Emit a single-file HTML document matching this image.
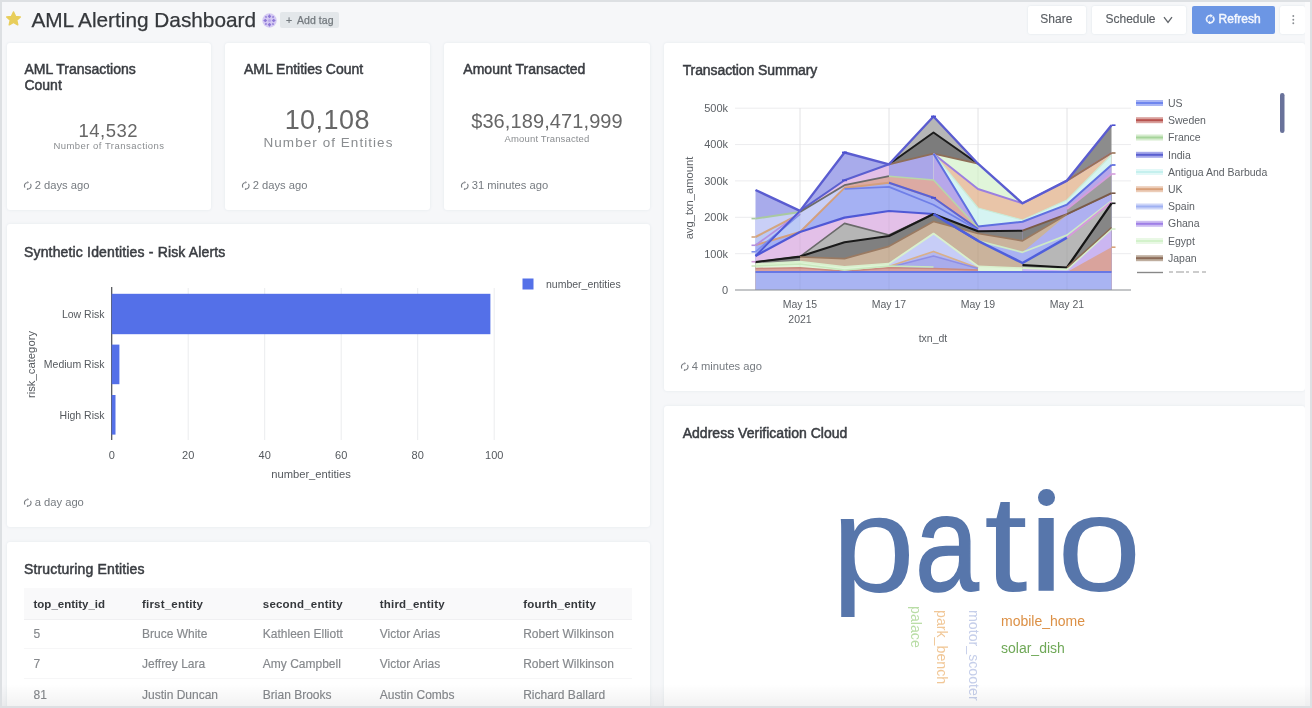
<!DOCTYPE html>
<html><head><meta charset="utf-8">
<style>
*{box-sizing:border-box;margin:0;padding:0}
html,body{width:1312px;height:708px;overflow:hidden;background:#f6f7f9;font-family:"Liberation Sans",sans-serif;color:#333}
#frame{position:absolute;left:0;top:0;width:1312px;height:708px;border:2px solid #dde0e3;z-index:50;pointer-events:none}
.card{position:absolute;background:#fff;border-radius:3px;box-shadow:0 0 3px rgba(102,136,153,.12)}
.t{position:absolute;white-space:nowrap}
.ct{font-size:14px;color:#3a3d42;font-weight:400;-webkit-text-stroke:.5px #3a3d42;line-height:16px}
.ago{font-size:11.2px;color:#767b80}
.btn{top:5.5px;height:28px;background:#fff;border-radius:2px;box-shadow:0 0 2px rgba(102,136,153,.18)}
.bt{top:12px;font-size:12px;line-height:14px;color:#5b5f64;-webkit-text-stroke:.15px #5b5f64}
.cv{text-align:center;color:#666}
.cl{text-align:center;color:#8a8d90}
.ago{line-height:14px}
.ago svg{vertical-align:-1.2px;margin-right:2px;margin-left:-.8px;color:#777b80}
.th{letter-spacing:.2px;font-size:11.5px;font-weight:700;color:#35383c;line-height:16px}
.td{font-size:12px;color:#85888c;line-height:16px;margin-top:.5px;-webkit-text-stroke:.15px #85888c}
.wh{font-size:14px;line-height:16px}
.wv{font-size:14.2px;line-height:16px;transform-origin:0 0;transform:rotate(90deg) translate(0,-50%)}
#fade{position:absolute;left:0;top:684px;width:1312px;height:24px;background:linear-gradient(to bottom,rgba(0,0,0,0),rgba(0,0,0,.055));z-index:40}
.pl{font-size:137px;line-height:154px;color:#5776ab;transform-origin:0 0}
#wrap{position:absolute;left:0;top:0;width:1312px;height:708px;overflow:hidden;filter:blur(.6px);background:#f6f7f9}
</style></head><body><div id="wrap">
<!-- HEADER -->
<div id="hdr">
<svg class="t" style="left:4.7px;top:9.6px" width="17" height="17" viewBox="0 0 18 17"><path d="M9 1.6 L11.1 6.3 L16.2 6.8 L12.4 10.2 L13.5 15.2 L9 12.6 L4.5 15.2 L5.6 10.2 L1.8 6.8 L6.9 6.3 Z" fill="#e8ce5b" stroke="#e8ce5b" stroke-width="1.6" stroke-linejoin="round"/></svg>
<div class="t" id="title" style="left:31.4px;top:7.8px;font-size:20.8px;line-height:24px;color:#35383c;-webkit-text-stroke:.25px #35383c">AML Alerting Dashboard</div>
<svg class="t" id="avatar" style="left:261.5px;top:12.5px" width="15" height="15" viewBox="0 0 15 15"><circle cx="7.5" cy="7.5" r="7.2" fill="#d4c9f3"/><g fill="#8d78d6"><path d="M7.5 1.2 L9.3 3.4 L7.5 5.2 L5.7 3.4Z M7.5 9.8 L9.3 11.6 L7.5 13.8 L5.7 11.6Z M1.2 7.5 L3.4 5.7 L5.2 7.5 L3.4 9.3Z M9.8 7.5 L11.6 5.7 L13.8 7.5 L11.6 9.3Z"/><path d="M3 3 L5 3.2 L4.8 5 L3.2 4.8Z M12 3 L11.8 5 L10 4.8 L10.2 3.2Z M3 12 L3.2 10 L5 10.2 L4.8 11.8Z M12 12 L10 11.8 L10.2 10 L11.8 10.2Z" opacity=".8"/></g><circle cx="7.5" cy="7.5" r="1.6" fill="#b9a9ea"/></svg>
<div class="t" id="addtag" style="left:280px;top:12px;width:59px;height:15.5px;border-radius:2px;background:#e3e7ea"></div>
<div class="t" style="left:286px;top:12.5px;font-size:10.5px;line-height:14px;color:#73797e;-webkit-text-stroke:.2px #73797e">+</div>
<div class="t" style="left:297px;top:12.5px;font-size:10.5px;line-height:14px;color:#73797e;letter-spacing:.05px;-webkit-text-stroke:.25px #73797e">Add tag</div>
<div class="t btn" id="share" style="left:1027.5px;width:58px"></div><div class="t bt" style="left:1040.3px">Share</div>
<div class="t btn" id="sched" style="left:1092px;width:93.5px"></div><div class="t bt" style="left:1105.5px">Schedule</div>
<svg class="t" style="left:1163px;top:15.5px" width="10" height="8" viewBox="0 0 10 8"><path d="M1 1.2 L5 6.4 L9 1.2" fill="none" stroke="#63676c" stroke-width="1.35"/></svg>
<div class="t btn" id="refresh" style="left:1192px;width:83px;background:#6c96e4;box-shadow:none"></div>
<svg class="t" style="left:1204.8px;top:13.8px" width="10.4" height="10.4" viewBox="0 0 10 10"><path d="M7.45 2.5 A3.5 3.5 0 0 1 4.2 8.4 M2.55 7.5 A3.5 3.5 0 0 1 5.8 1.6" fill="none" stroke="#eef3fd" stroke-width="1.6"/><path d="M5.2 0 L7.6 1.7 L5.2 3.6Z M4.8 10 L2.4 8.3 L4.8 6.4Z" fill="#eef3fd"/></svg>
<div class="t bt" style="left:1218.6px;color:#f4f7fe;-webkit-text-stroke:.45px #f4f7fe">Refresh</div>
<div class="t btn" id="more" style="left:1279.5px;width:25.5px"></div>
<svg class="t" style="left:1291px;top:13.5px" width="5" height="12" viewBox="0 0 5 12"><circle cx="2.3" cy="2" r=".95" fill="#8a8e93"/><circle cx="2.3" cy="5.7" r=".95" fill="#8a8e93"/><circle cx="2.3" cy="9.3" r=".95" fill="#8a8e93"/></svg>
</div>
<!-- CARDS -->
<div class="card" id="c1" style="left:7px;top:43px;width:204px;height:167px">
<div class="t ct" style="left:17.5px;top:18.3px;white-space:normal;width:130px;letter-spacing:-0.02px">AML Transactions Count</div>
<div class="t cv" style="left:0;width:100%;top:79px;font-size:18.5px;line-height:18.5px;letter-spacing:.5px;margin-left:-.7px">14,532</div>
<div class="t cl" style="left:0;width:100%;top:96.5px;font-size:9.5px;line-height:11.5px;letter-spacing:0.47px">Number of Transactions</div>
<div class="t ago" style="left:17px;top:135px"><svg class="ri" width="9.5" height="9.5" viewBox="0 0 10 10"><path d="M7.87 2.99 A3.5 3.5 0 0 1 5.31 8.49 M2.13 7.01 A3.5 3.5 0 0 1 4.69 1.51" fill="none" stroke="currentColor" stroke-width="1.15"/><path d="M3.81 8.62 L5.43 9.88 L5.18 7.09 Z M6.19 1.38 L4.57 0.12 L4.82 2.91 Z" fill="currentColor"/></svg><span>2 days ago</span></div>
</div>
<div class="card" id="c2" style="left:225px;top:43px;width:205px;height:167px">
<div class="t ct" style="left:19px;top:18.3px;white-space:normal;width:130px;letter-spacing:-0.01px">AML Entities Count</div>
<div class="t cv" style="left:0;width:100%;top:64px;font-size:27px;line-height:27px;letter-spacing:.45px;margin-left:-.2px">10,108</div>
<div class="t cl" style="left:0;width:100%;top:92px;font-size:13.5px;line-height:15.5px;letter-spacing:1.05px;margin-left:1px">Number of Entities</div>
<div class="t ago" style="left:17px;top:135px"><svg class="ri" width="9.5" height="9.5" viewBox="0 0 10 10"><path d="M7.87 2.99 A3.5 3.5 0 0 1 5.31 8.49 M2.13 7.01 A3.5 3.5 0 0 1 4.69 1.51" fill="none" stroke="currentColor" stroke-width="1.15"/><path d="M3.81 8.62 L5.43 9.88 L5.18 7.09 Z M6.19 1.38 L4.57 0.12 L4.82 2.91 Z" fill="currentColor"/></svg><span>2 days ago</span></div>
</div>
<div class="card" id="c3" style="left:444px;top:43px;width:206px;height:167px">
<div class="t ct" style="left:19.3px;top:18.3px;white-space:normal;width:130px;letter-spacing:0.035px">Amount Transacted</div>
<div class="t cv" style="left:0;width:100%;top:68px;font-size:20px;line-height:20px;letter-spacing:.1px">$36,189,471,999</div>
<div class="t cl" style="left:0;width:100%;top:90px;font-size:9.5px;line-height:11.5px;letter-spacing:0.15px">Amount Transacted</div>
<div class="t ago" style="left:17px;top:135px"><svg class="ri" width="9.5" height="9.5" viewBox="0 0 10 10"><path d="M7.87 2.99 A3.5 3.5 0 0 1 5.31 8.49 M2.13 7.01 A3.5 3.5 0 0 1 4.69 1.51" fill="none" stroke="currentColor" stroke-width="1.15"/><path d="M3.81 8.62 L5.43 9.88 L5.18 7.09 Z M6.19 1.38 L4.57 0.12 L4.82 2.91 Z" fill="currentColor"/></svg><span>31 minutes ago</span></div>
</div>
<div class="card" id="c4" style="left:664px;top:43px;width:641px;height:348px">
<div class="t ct" style="left:18.7px;top:19px;letter-spacing:-0.1px">Transaction Summary</div>
<!--AREA-START--><svg class="t" style="left:0;top:0" width="641" height="348" font-family="Liberation Sans, sans-serif" font-size="10.5" fill="#5d6166">
<line x1="71" y1="210.7" x2="467" y2="210.7" stroke="#ececee" stroke-width="1"/>
<line x1="71" y1="174.3" x2="467" y2="174.3" stroke="#ececee" stroke-width="1"/>
<line x1="71" y1="137.9" x2="467" y2="137.9" stroke="#ececee" stroke-width="1"/>
<line x1="71" y1="101.6" x2="467" y2="101.6" stroke="#ececee" stroke-width="1"/>
<line x1="71" y1="65.2" x2="467" y2="65.2" stroke="#ececee" stroke-width="1"/>
<line x1="136.0" y1="65" x2="136.0" y2="247" stroke="#ececee" stroke-width="1"/>
<line x1="225.0" y1="65" x2="225.0" y2="247" stroke="#ececee" stroke-width="1"/>
<line x1="314.0" y1="65" x2="314.0" y2="247" stroke="#ececee" stroke-width="1"/>
<line x1="403.0" y1="65" x2="403.0" y2="247" stroke="#ececee" stroke-width="1"/>
<g><path d="M91.5 147.0 L136.0 167.9 L180.5 109.5 L225.0 121.3 L225.0 247 L91.5 247 Z" fill="#a8abeb"/>
<path d="M225.0 121.3 L269.5 73.5 L314.0 120.7 L314.0 247 L225.0 247 Z" fill="#b6b6b6"/>
<path d="M314.0 120.7 L358.5 160.3 L403.0 137.6 L403.0 247 L314.0 247 Z" fill="#e9c5a8"/>
<path d="M403.0 137.6 L447.5 82.2 L447.5 247 L403.0 247 Z" fill="#8c8c8c"/>
<path d="M225.0 121.3 L269.5 89.5 L314.0 120.7 L314.0 247 L225.0 247 Z" fill="#7c7c7c"/>
<path d="M225.0 121.3 L269.5 110.7 L269.5 247 L225.0 247 Z" fill="#aaa6e8"/>
<path d="M269.5 110.7 L314.0 120.7 L358.5 160.3 L358.5 247 L269.5 247 Z" fill="#e0f5d9"/>
<path d="M269.5 110.7 L314.0 146.0 L358.5 160.3 L403.0 137.6 L447.5 110.0 L447.5 247 L269.5 247 Z" fill="#e9c5a8"/>
<path d="M269.5 110.7 L314.0 165.0 L358.5 177.0 L403.0 157.0 L447.5 112.0 L447.5 247 L269.5 247 Z" fill="#d5f4f2"/>
<path d="M269.5 110.7 L314.0 183.5 L358.5 178.8 L403.0 161.6 L447.5 122.0 L447.5 247 L269.5 247 Z" fill="#b7a7ea"/>
<path d="M403.0 166.0 L447.5 131.0 L447.5 247 L403.0 247 Z" fill="#9c9c9c"/>
<path d="M91.5 175.6 L136.0 169.0 L136.0 247 L91.5 247 Z" fill="#c9cff7"/>
<path d="M91.5 194.0 L136.0 171.0 L136.0 247 L91.5 247 Z" fill="#bccaf6"/>
<path d="M136.0 167.9 L180.5 137.3 L225.0 121.3 L225.0 247 L136.0 247 Z" fill="#e3c0e8"/>
<path d="M136.0 169.0 L180.5 142.2 L180.5 247 L136.0 247 Z" fill="#c9cff7"/>
<path d="M180.5 142.2 L225.0 133.2 L269.5 137.0 L314.0 185.0 L314.0 247 L180.5 247 Z" fill="#dcaaa3"/>
<path d="M91.5 202.0 L136.0 189.0 L180.5 144.9 L225.0 139.8 L269.5 154.8 L314.0 186.0 L314.0 247 L91.5 247 Z" fill="#a5b1f3"/>
<path d="M91.5 213.0 L136.0 189.0 L180.5 174.6 L225.0 168.0 L269.5 171.0 L314.0 197.8 L314.0 247 L91.5 247 Z" fill="#e3c0e8"/>
<path d="M91.5 219.0 L136.0 213.6 L180.5 180.4 L225.0 192.0 L269.5 171.0 L269.5 247 L91.5 247 Z" fill="#b6b6b6"/>
<path d="M91.5 219.0 L136.0 213.6 L180.5 199.2 L225.0 193.0 L269.5 171.0 L314.0 188.3 L358.5 187.7 L358.5 247 L91.5 247 Z" fill="#808080"/>
<path d="M358.5 187.7 L403.0 171.2 L447.5 150.2 L447.5 247 L358.5 247 Z" fill="#808080"/>
<path d="M136.0 214.0 L180.5 215.6 L225.0 203.3 L269.5 178.5 L314.0 190.5 L358.5 197.8 L403.0 171.2 L403.0 247 L136.0 247 Z" fill="#cab39c"/>
<path d="M358.5 209.3 L403.0 172.0 L447.5 151.0 L447.5 247 L358.5 247 Z" fill="#aeb0f0"/>
<path d="M314.0 197.8 L358.5 209.3 L403.0 192.1 L447.5 158.0 L447.5 247 L314.0 247 Z" fill="#a9b2f2"/>
<path d="M314.0 197.8 L358.5 220.0 L358.5 247 L314.0 247 Z" fill="#cab39c"/>
<path d="M358.5 220.0 L403.0 194.7 L447.5 159.0 L447.5 247 L358.5 247 Z" fill="#b7b7b7"/>
<path d="M358.5 222.0 L403.0 224.5 L447.5 160.3 L447.5 247 L358.5 247 Z" fill="#868686"/>
<path d="M358.5 225.0 L403.0 226.5 L447.5 186.0 L447.5 247 L358.5 247 Z" fill="#cbb6f1"/>
<path d="M403.0 229.0 L447.5 204.2 L447.5 247 L403.0 247 Z" fill="#d9a39c"/>
<path d="M91.5 221.0 L136.0 218.7 L180.5 223.8 L225.0 220.7 L225.0 247 L91.5 247 Z" fill="#e0f5d9"/>
<path d="M225.0 220.7 L269.5 190.6 L314.0 223.3 L314.0 247 L225.0 247 Z" fill="#c7cdf7"/>
<path d="M314.0 223.3 L358.5 225.0 L358.5 247 L314.0 247 Z" fill="#e0f5d9"/>
<path d="M225.0 223.5 L269.5 208.5 L314.0 225.0 L314.0 247 L225.0 247 Z" fill="#b4b8f0"/>
<path d="M225.0 224.5 L269.5 213.0 L314.0 225.5 L314.0 247 L225.0 247 Z" fill="#a9acec"/>
<path d="M91.5 225.5 L136.0 224.8 L180.5 228.3 L225.0 224.8 L269.5 225.5 L314.0 227.0 L314.0 247 L91.5 247 Z" fill="#d9a39c"/>
<path d="M91.5 229.0 L447.5 229.0 L447.5 247 L91.5 247 Z" fill="#a9b4f2"/></g>
<line x1="136.0" y1="65" x2="136.0" y2="247" stroke="#000" stroke-opacity="0.04" stroke-width="1"/>
<line x1="225.0" y1="65" x2="225.0" y2="247" stroke="#000" stroke-opacity="0.04" stroke-width="1"/>
<line x1="314.0" y1="65" x2="314.0" y2="247" stroke="#000" stroke-opacity="0.04" stroke-width="1"/>
<line x1="403.0" y1="65" x2="403.0" y2="247" stroke="#000" stroke-opacity="0.04" stroke-width="1"/>
<g><path d="M225.0 121.3 L269.5 89.5 L314.0 120.7" fill="none" stroke="#1c1c1c" stroke-width="2.00" stroke-linejoin="round"/>
<path d="M225.0 121.3 L269.5 110.7 L314.0 120.7" fill="none" stroke="#8f6e58" stroke-width="1.75" stroke-linejoin="round"/>
<path d="M269.5 110.7 L314.0 146.0 L358.5 160.3 L403.0 137.6 L447.5 110.0" fill="none" stroke="#9b7fe0" stroke-width="2.00" stroke-linejoin="round"/>
<path d="M403.0 137.6 L447.5 110.0" fill="none" stroke="#9a7356" stroke-width="1.88" stroke-linejoin="round"/>
<path d="M269.5 110.7 L314.0 165.0 L358.5 177.0 L403.0 157.0 L447.5 112.0" fill="none" stroke="#c9ecd9" stroke-width="1.25" stroke-linejoin="round"/>
<path d="M269.5 110.7 L314.0 183.5 L358.5 178.8 L403.0 161.6 L447.5 122.0" fill="none" stroke="#5f6fe0" stroke-width="2.00" stroke-linejoin="round"/>
<path d="M403.0 166.0 L447.5 131.0" fill="none" stroke="#d59ddc" stroke-width="1.88" stroke-linejoin="round"/>
<path d="M91.5 175.6 L136.0 169.0" fill="none" stroke="#a9c9a0" stroke-width="1.88" stroke-linejoin="round"/>
<path d="M91.5 194.0 L136.0 171.0" fill="none" stroke="#d4a57e" stroke-width="2.00" stroke-linejoin="round"/>
<path d="M136.0 167.9 L180.5 137.3 L225.0 121.3" fill="none" stroke="#5a5fd0" stroke-width="2.00" stroke-linejoin="round"/>
<path d="M136.0 169.0 L180.5 142.2 L225.0 133.2" fill="none" stroke="#6b6b6b" stroke-width="1.88" stroke-linejoin="round"/>
<path d="M225.0 133.2 L269.5 137.0 L314.0 185.0" fill="none" stroke="#b8d6a8" stroke-width="1.50" stroke-linejoin="round"/>
<path d="M91.5 202.0 L136.0 189.0 L180.5 144.9 L225.0 139.8 L269.5 154.8 L314.0 186.0" fill="none" stroke="#d49f7c" stroke-width="2.00" stroke-linejoin="round"/>
<path d="M225.0 139.8 L269.5 154.8 L314.0 186.0" fill="none" stroke="#5a62d8" stroke-width="2.00" stroke-linejoin="round"/>
<path d="M91.5 208.8 L136.0 171.0" fill="none" stroke="#7f8fea" stroke-width="1.75" stroke-linejoin="round"/>
<path d="M91.5 202.3 L136.0 170.0" fill="none" stroke="#b48fe0" stroke-width="1.75" stroke-linejoin="round"/>
<path d="M180.5 146.0 L225.0 143.9 L269.5 161.7 L314.0 187.0" fill="none" stroke="#6f7fe8" stroke-width="1.75" stroke-linejoin="round"/>
<path d="M91.5 213.0 L136.0 189.0 L180.5 174.6 L225.0 168.0 L269.5 171.0 L314.0 197.8" fill="none" stroke="#4f58d6" stroke-width="2.25" stroke-linejoin="round"/>
<path d="M91.5 213.0 L136.0 167.9" fill="none" stroke="#4f58d6" stroke-width="2.00" stroke-linejoin="round"/>
<path d="M91.5 219.0 L136.0 213.6 L180.5 180.4 L225.0 192.0 L269.5 171.0" fill="none" stroke="#6a6a6a" stroke-width="1.62" stroke-linejoin="round"/>
<path d="M91.5 219.0 L136.0 213.6 L180.5 199.2 L225.0 193.0 L269.5 171.0 L314.0 188.3 L358.5 187.7" fill="none" stroke="#1a1a1a" stroke-width="2.12" stroke-linejoin="round"/>
<path d="M358.5 187.7 L403.0 171.2 L447.5 150.2" fill="none" stroke="#7a5a48" stroke-width="1.88" stroke-linejoin="round"/>
<path d="M136.0 214.0 L180.5 215.6 L225.0 203.3 L269.5 178.5 L314.0 190.5 L358.5 197.8 L403.0 171.2" fill="none" stroke="#9a7a62" stroke-width="1.75" stroke-linejoin="round"/>
<path d="M314.0 197.8 L358.5 209.3 L403.0 192.1 L447.5 158.0" fill="none" stroke="#cdeac6" stroke-width="1.75" stroke-linejoin="round"/>
<path d="M269.5 171.0 L314.0 197.8 L358.5 220.0 L403.0 194.7" fill="none" stroke="#4f5fdc" stroke-width="2.50" stroke-linejoin="round"/>
<path d="M403.0 194.7 L447.5 159.0" fill="none" stroke="#d79adb" stroke-width="1.88" stroke-linejoin="round"/>
<path d="M358.5 222.0 L403.0 224.5 L447.5 160.3" fill="none" stroke="#151515" stroke-width="2.25" stroke-linejoin="round"/>
<path d="M358.5 225.0 L403.0 226.5 L447.5 186.0" fill="none" stroke="#d6efcb" stroke-width="1.88" stroke-linejoin="round"/>
<path d="M403.0 224.6 L447.5 184.5" fill="none" stroke="#8b6b55" stroke-width="1.50" stroke-linejoin="round"/>
<path d="M91.5 221.0 L136.0 218.7 L180.5 223.8 L225.0 220.7" fill="none" stroke="#d9f0cd" stroke-width="1.75" stroke-linejoin="round"/>
<path d="M225.0 220.7 L269.5 190.6 L314.0 223.3" fill="none" stroke="#d9f0cd" stroke-width="1.88" stroke-linejoin="round"/>
<path d="M314.0 223.3 L358.5 225.0" fill="none" stroke="#d9f0cd" stroke-width="1.50" stroke-linejoin="round"/>
<path d="M225.0 223.5 L269.5 208.5 L314.0 225.0" fill="none" stroke="#d9b08a" stroke-width="1.75" stroke-linejoin="round"/>
<path d="M225.0 224.5 L269.5 213.0 L314.0 225.5" fill="none" stroke="#8f8fe6" stroke-width="1.50" stroke-linejoin="round"/>
<path d="M91.5 225.5 L136.0 224.8 L180.5 228.3 L225.0 224.8 L269.5 225.5 L314.0 227.0" fill="none" stroke="#c98a80" stroke-width="1.50" stroke-linejoin="round"/>
<path d="M91.5 223.0 L136.0 221.0 L180.5 227.0 L225.0 223.0 L269.5 224.0" fill="none" stroke="#c9e8bd" stroke-width="1.50" stroke-linejoin="round"/>
<path d="M91.5 229.0 L447.5 229.0" fill="none" stroke="#6878e4" stroke-width="2.00" stroke-linejoin="round"/>
<path d="M91.5 147.0 L136.0 167.9 L180.5 109.5 L225.0 121.3 L269.5 73.5 L314.0 120.7 L358.5 160.3 L403.0 137.6 L447.5 82.2" fill="none" stroke="#5a5cd0" stroke-width="2.38" stroke-linejoin="round"/>
<line x1="87.5" y1="175.6" x2="91.5" y2="175.6" stroke="#a9c9a0" stroke-width="1.6"/>
<line x1="87.5" y1="194.0" x2="91.5" y2="194.0" stroke="#d4a57e" stroke-width="1.6"/>
<line x1="87.5" y1="202.3" x2="91.5" y2="202.3" stroke="#b48fe0" stroke-width="1.6"/>
<line x1="87.5" y1="208.8" x2="91.5" y2="208.8" stroke="#7f8fea" stroke-width="1.6"/>
<line x1="87.5" y1="218.7" x2="91.5" y2="218.7" stroke="#d59ddc" stroke-width="1.6"/>
<line x1="87.5" y1="223.0" x2="91.5" y2="223.0" stroke="#cfe8c0" stroke-width="1.6"/>
<line x1="447.5" y1="82.2" x2="451.5" y2="82.2" stroke="#4a4fd0" stroke-width="1.6"/>
<line x1="447.5" y1="110.0" x2="451.5" y2="110.0" stroke="#9a7356" stroke-width="1.6"/>
<line x1="447.5" y1="122.0" x2="451.5" y2="122.0" stroke="#4f5fdc" stroke-width="1.6"/>
<line x1="447.5" y1="131.0" x2="451.5" y2="131.0" stroke="#d59ddc" stroke-width="1.6"/>
<line x1="447.5" y1="150.2" x2="451.5" y2="150.2" stroke="#7a5a48" stroke-width="1.6"/>
<line x1="447.5" y1="160.3" x2="451.5" y2="160.3" stroke="#222" stroke-width="1.6"/>
<line x1="447.5" y1="186.0" x2="451.5" y2="186.0" stroke="#d6efcb" stroke-width="1.6"/>
<line x1="447.5" y1="204.2" x2="451.5" y2="204.2" stroke="#d9a57a" stroke-width="1.6"/>
<line x1="178.0" y1="109.5" x2="183.0" y2="109.5" stroke="#4a4fd0" stroke-width="1.8"/>
<line x1="267.0" y1="73.5" x2="272.0" y2="73.5" stroke="#4a4fd0" stroke-width="1.8"/>
<line x1="178.0" y1="137.3" x2="183.0" y2="137.3" stroke="#4a4fd0" stroke-width="1.8"/>
<line x1="267.0" y1="154.8" x2="272.0" y2="154.8" stroke="#4a4fd0" stroke-width="1.8"/></g>
<line x1="71" y1="247" x2="467" y2="247" stroke="#8a8d91" stroke-width="1.2"/>
<text x="64" y="250.8" text-anchor="end" font-size="11">0</text>
<text x="64" y="214.5" text-anchor="end" font-size="11">100k</text>
<text x="64" y="178.1" text-anchor="end" font-size="11">200k</text>
<text x="64" y="141.8" text-anchor="end" font-size="11">300k</text>
<text x="64" y="105.4" text-anchor="end" font-size="11">400k</text>
<text x="64" y="69.0" text-anchor="end" font-size="11">500k</text>
<text x="136.0" y="265" text-anchor="middle" font-size="10.5">May 15</text>
<text x="225.0" y="265" text-anchor="middle" font-size="10.5">May 17</text>
<text x="314.0" y="265" text-anchor="middle" font-size="10.5">May 19</text>
<text x="403.0" y="265" text-anchor="middle" font-size="10.5">May 21</text>
<text x="136.0" y="280" text-anchor="middle" font-size="10.5">2021</text>
<text x="269" y="299" text-anchor="middle" font-size="10.5">txn_dt</text>
<text transform="translate(28.700000000000045,155) rotate(-90)" text-anchor="middle" font-size="11.2">avg_txn_amount</text>
<rect x="472" y="57.0" width="27" height="6" fill="#aab6f5"/>
<line x1="472" y1="60.0" x2="499" y2="60.0" stroke="#6f86ee" stroke-width="2"/>
<text x="504" y="63.7" font-size="10.5">US</text>
<rect x="472" y="74.2" width="27" height="6" fill="#d9a09c"/>
<line x1="472" y1="77.2" x2="499" y2="77.2" stroke="#b8524e" stroke-width="2"/>
<text x="504" y="81.0" font-size="10.5">Sweden</text>
<rect x="472" y="91.5" width="27" height="6" fill="#d5ecce"/>
<line x1="472" y1="94.5" x2="499" y2="94.5" stroke="#a6d49b" stroke-width="2"/>
<text x="504" y="98.2" font-size="10.5">France</text>
<rect x="472" y="108.8" width="27" height="6" fill="#a5a8ea"/>
<line x1="472" y1="111.8" x2="499" y2="111.8" stroke="#5a5fd0" stroke-width="2"/>
<text x="504" y="115.5" font-size="10.5">India</text>
<rect x="472" y="126.0" width="27" height="6" fill="#e2f8f7"/>
<line x1="472" y1="129.0" x2="499" y2="129.0" stroke="#c5f0ee" stroke-width="2"/>
<text x="504" y="132.7" font-size="10.5">Antigua And Barbuda</text>
<rect x="472" y="143.2" width="27" height="6" fill="#eccdb8"/>
<line x1="472" y1="146.2" x2="499" y2="146.2" stroke="#d9a07a" stroke-width="2"/>
<text x="504" y="149.9" font-size="10.5">UK</text>
<rect x="472" y="160.5" width="27" height="6" fill="#cdd5f8"/>
<line x1="472" y1="163.5" x2="499" y2="163.5" stroke="#9fb0f2" stroke-width="2"/>
<text x="504" y="167.2" font-size="10.5">Spain</text>
<rect x="472" y="177.8" width="27" height="6" fill="#cdbdf2"/>
<line x1="472" y1="180.8" x2="499" y2="180.8" stroke="#9f7fe6" stroke-width="2"/>
<text x="504" y="184.4" font-size="10.5">Ghana</text>
<rect x="472" y="195.0" width="27" height="6" fill="#e9f8e5"/>
<line x1="472" y1="198.0" x2="499" y2="198.0" stroke="#d3f2cb" stroke-width="2"/>
<text x="504" y="201.7" font-size="10.5">Egypt</text>
<rect x="472" y="212.2" width="27" height="6" fill="#bfae9f"/>
<line x1="472" y1="215.2" x2="499" y2="215.2" stroke="#8b6b58" stroke-width="2"/>
<text x="504" y="218.9" font-size="10.5">Japan</text>
<line x1="473" y1="229.5" x2="499" y2="229.5" stroke="#888" stroke-width="1.4"/>
<line x1="505" y1="229" x2="543" y2="229" stroke="#999" stroke-width="1" stroke-dasharray="4 3 8 2 3 4 6 3"/>
<rect x="616" y="50" width="4.5" height="40" rx="2.2" fill="#69729a"/>
</svg><!--AREA-END-->
<div class="t ago" style="left:17px;top:316px"><svg class="ri" width="9.5" height="9.5" viewBox="0 0 10 10"><path d="M7.87 2.99 A3.5 3.5 0 0 1 5.31 8.49 M2.13 7.01 A3.5 3.5 0 0 1 4.69 1.51" fill="none" stroke="currentColor" stroke-width="1.15"/><path d="M3.81 8.62 L5.43 9.88 L5.18 7.09 Z M6.19 1.38 L4.57 0.12 L4.82 2.91 Z" fill="currentColor"/></svg><span>4 minutes ago</span></div>
</div>
<div class="card" id="c5" style="left:7px;top:224px;width:643px;height:303px">
<div class="t ct" style="left:17px;top:19.5px;letter-spacing:0.16px">Synthetic Identities - Risk Alerts</div>
<svg class="t" style="left:0;top:0" width="643" height="303" font-family="Liberation Sans, sans-serif" font-size="10.5" fill="#55595e">
<line x1="181.2" y1="64" x2="181.2" y2="216" stroke="#ebecee" stroke-width="1"/>
<line x1="257.7" y1="64" x2="257.7" y2="216" stroke="#ebecee" stroke-width="1"/>
<line x1="334.2" y1="64" x2="334.2" y2="216" stroke="#ebecee" stroke-width="1"/>
<line x1="410.7" y1="64" x2="410.7" y2="216" stroke="#ebecee" stroke-width="1"/>
<line x1="487.2" y1="64" x2="487.2" y2="216" stroke="#ebecee" stroke-width="1"/>
<line x1="104.7" y1="63" x2="104.7" y2="216" stroke="#4a4d52" stroke-width="1.2"/>
<rect x="104.7" y="69.8" width="378.7" height="40.4" fill="#5470e8"/>
<rect x="104.7" y="120.6" width="7.7" height="39.6" fill="#5470e8"/>
<rect x="104.7" y="171.0" width="3.8" height="39.6" fill="#5470e8"/>
<text x="97.5" y="93.7" text-anchor="end">Low Risk</text>
<text x="97.5" y="144.2" text-anchor="end">Medium Risk</text>
<text x="97.5" y="194.7" text-anchor="end">High Risk</text>
<text x="104.7" y="234.5" text-anchor="middle" font-size="11">0</text>
<text x="181.2" y="234.5" text-anchor="middle" font-size="11">20</text>
<text x="257.7" y="234.5" text-anchor="middle" font-size="11">40</text>
<text x="334.2" y="234.5" text-anchor="middle" font-size="11">60</text>
<text x="410.7" y="234.5" text-anchor="middle" font-size="11">80</text>
<text x="487.2" y="234.5" text-anchor="middle" font-size="11">100</text>
<text x="304" y="253.5" text-anchor="middle" font-size="11.2">number_entities</text>
<text transform="translate(28.3,140.5) rotate(-90)" text-anchor="middle" font-size="11.3">risk_category</text>
<rect x="515.5" y="54.5" width="11" height="11" fill="#5470e8"/>
<text x="539" y="64" font-size="10.5">number_entities</text>
</svg>
<div class="t ago" style="left:17px;top:271px"><svg class="ri" width="9.5" height="9.5" viewBox="0 0 10 10"><path d="M7.87 2.99 A3.5 3.5 0 0 1 5.31 8.49 M2.13 7.01 A3.5 3.5 0 0 1 4.69 1.51" fill="none" stroke="currentColor" stroke-width="1.15"/><path d="M3.81 8.62 L5.43 9.88 L5.18 7.09 Z M6.19 1.38 L4.57 0.12 L4.82 2.91 Z" fill="currentColor"/></svg><span>a day ago</span></div>
</div>
<div class="card" id="c6" style="left:7px;top:542px;width:643px;height:170px">
<div class="t ct" style="left:17px;top:19px;letter-spacing:0.16px">Structuring Entities</div>
<div class="t" style="left:17px;top:46px;width:608px;height:32px;background:#f9f9fa;border-bottom:1px solid #f0f0f2"></div>
<div class="t th" style="left:26.5px;top:54px;letter-spacing:0">top_entity_id</div>
<div class="t th" style="left:135.0px;top:54px">first_entity</div>
<div class="t th" style="left:255.8px;top:54px">second_entity</div>
<div class="t th" style="left:372.8px;top:54px">third_entity</div>
<div class="t th" style="left:516.2px;top:54px">fourth_entity</div>
<div class="t td" style="left:26.5px;top:83.3px">5</div>
<div class="t td" style="left:135.0px;top:83.3px">Bruce White</div>
<div class="t td" style="left:255.8px;top:83.3px">Kathleen Elliott</div>
<div class="t td" style="left:372.8px;top:83.3px">Victor Arias</div>
<div class="t td" style="left:516.2px;top:83.3px">Robert Wilkinson</div>
<div class="t" style="left:17px;top:106.0px;width:608px;height:1px;background:#f6f6f7"></div>
<div class="t td" style="left:26.5px;top:113.8px">7</div>
<div class="t td" style="left:135.0px;top:113.8px">Jeffrey Lara</div>
<div class="t td" style="left:255.8px;top:113.8px">Amy Campbell</div>
<div class="t td" style="left:372.8px;top:113.8px">Victor Arias</div>
<div class="t td" style="left:516.2px;top:113.8px">Robert Wilkinson</div>
<div class="t" style="left:17px;top:136.4px;width:608px;height:1px;background:#f6f6f7"></div>
<div class="t td" style="left:26.5px;top:144.3px">81</div>
<div class="t td" style="left:135.0px;top:144.3px">Justin Duncan</div>
<div class="t td" style="left:255.8px;top:144.3px">Brian Brooks</div>
<div class="t td" style="left:372.8px;top:144.3px">Austin Combs</div>
<div class="t td" style="left:516.2px;top:144.3px">Richard Ballard</div>
</div>
<div class="card" id="c7" style="left:664px;top:406px;width:641px;height:306px;overflow:hidden">
<div class="t ct" style="left:18.7px;top:19px;letter-spacing:0.02px">Address Verification Cloud</div>
<div id="patio"><div class="t pl" style="left:166.5px;top:60.5px;transform:scaleX(1.107);clip-path:inset(0 0 3.5px 0)">p</div><div class="t pl" style="left:251.4px;top:60.5px;transform:scaleX(0.837);-webkit-text-stroke:1.6px #5776ab">a</div><div class="t pl" style="left:320.3px;top:60.5px;transform:scaleX(1.147)">t</div><div class="t pl" style="left:363.2px;top:60.5px;transform:scaleX(1.26);clip-path:inset(50px 0 0 0)">i</div><div class="t pl" style="left:393.2px;top:60.5px;transform:scaleX(1.11)">o</div><div class="t" style="left:374.2px;top:83.2px;width:16.6px;height:16.6px;border-radius:50%;background:#5776ab"></div></div>
<div class="t wv" id="w1" style="left:251.7px;top:200px;color:#b9dda6">palace</div>
<div class="t wv" id="w2" style="left:277.5px;top:203.5px;color:#f1c797">park_bench</div>
<div class="t wv" id="w3" style="left:310px;top:203.5px;color:#c6cfea">motor_scooter</div>
<div class="t wh" id="w4" style="left:337px;top:207.39999999999998px;color:#dc9045">mobile_home</div>
<div class="t wh" id="w5" style="left:337px;top:233.60000000000002px;color:#6fa857">solar_dish</div>
</div>
<div style="position:absolute;left:1305px;top:2px;width:5px;height:704px;background:#fbfbfc;z-index:30"></div>
<div id="fade"></div>
</div><div id="frame"></div>
</body></html>
